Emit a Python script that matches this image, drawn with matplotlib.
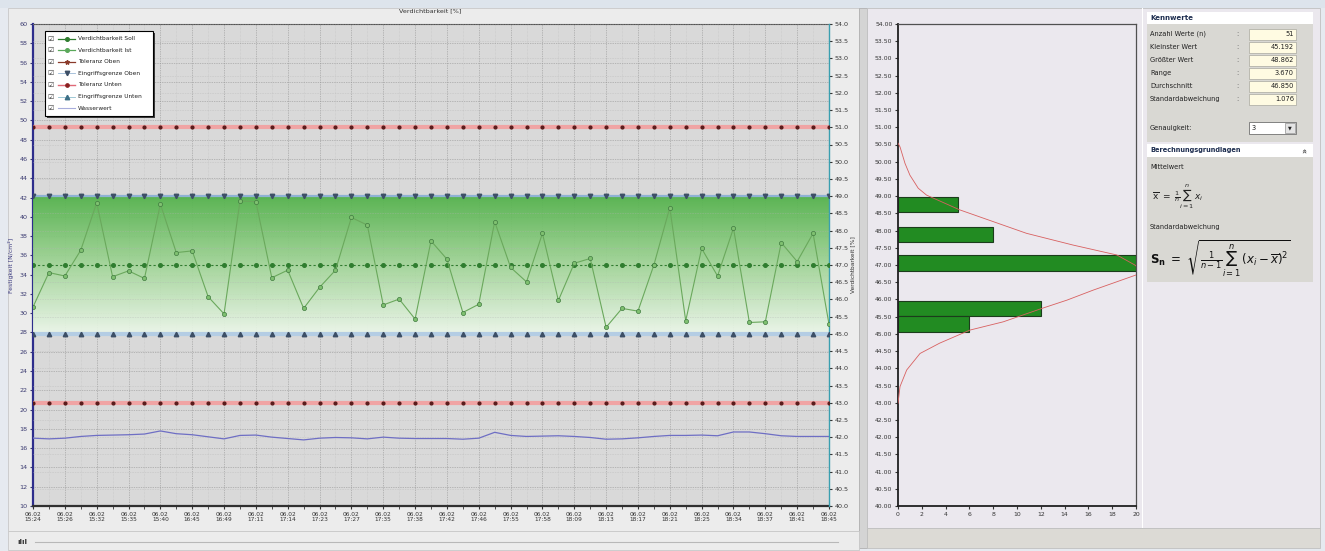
import numpy as np
import matplotlib
matplotlib.use("Agg")
import matplotlib.pyplot as plt
from matplotlib.patches import Rectangle
from matplotlib.lines import Line2D
from matplotlib.colors import LinearSegmentedColormap

W, H = 1325, 551

# --- Daten ---
datum = "06.02"
zeiten = ["15:24", "15:26", "15:32", "15:35", "15:40", "16:45", "16:49", "17:11", "17:14",
          "17:23", "17:27", "17:35", "17:38", "17:42", "17:46", "17:55", "17:58", "18:09",
          "18:13", "18:17", "18:21", "18:25", "18:34", "18:37", "18:41", "18:45"]

ist = [45.78, 46.78, 46.68, 47.43, 48.81, 46.66, 46.83, 46.61, 48.77, 47.36,
       47.41, 46.08, 45.58, 48.86, 48.84, 46.63, 46.85, 45.74, 46.35, 46.85,
       48.38, 48.16, 45.84, 46.01, 45.43, 47.70, 47.17, 45.62, 45.86, 48.26,
       46.93, 46.51, 47.92, 45.97, 47.05, 47.19, 45.19, 45.74, 45.66, 47.00,
       48.67, 45.38, 47.48, 46.68, 48.07, 45.33, 45.35, 47.65, 47.10, 47.92, 45.28]

wasser = [41.97, 41.95, 41.97, 42.02, 42.05, 42.06, 42.07, 42.09, 42.18, 42.10,
          42.07, 42.01, 41.95, 42.05, 42.06, 42.00, 41.96, 41.92, 41.97, 41.99,
          41.98, 41.95, 42.00, 41.97, 41.96, 41.96, 41.96, 41.94, 41.97, 42.14,
          42.05, 42.02, 42.03, 42.04, 42.02, 41.99, 41.94, 41.95, 41.98, 42.02,
          42.05, 42.05, 42.06, 42.04, 42.15, 42.15, 42.10, 42.04, 42.02, 42.02, 42.02]

soll_wert = 47.0
tol_oben, tol_unten = 51.0, 43.0
eg_oben, eg_unten = 49.0, 45.0

hist_mitte = [48.76, 47.88, 47.06, 45.74, 45.29]
hist_anzahl = [5, 8, 20, 12, 6]

kurve_wert = [50.54, 50.43, 49.95, 49.61, 49.23, 49.03, 48.60, 48.26, 47.92, 47.58, 47.29,
              47.00, 46.85, 46.71, 46.27, 45.98, 45.74, 45.35, 45.11, 44.73, 44.43, 43.95,
              43.47, 42.98]
kurve_anzahl = [0.0, 0.17, 0.59, 1.0, 1.7, 2.4, 5.2, 8.0, 10.8, 14.7, 18.4,
                19.9, 20.4, 20.0, 16.4, 14.2, 12.1, 8.85, 6.05, 3.5, 1.85, 0.73,
                0.17, 0.0]

stat_namen = ["Anzahl Werte (n)", "Kleinster Wert", "Größter Wert", "Range",
              "Durchschnitt", "Standardabweichung"]
stat_werte = ["51", "45.192", "48.862", "3.670", "46.850", "1.076"]

legende = ["Verdichtbarkeit Soll", "Verdichtbarkeit Ist", "Toleranz Oben",
           "Eingriffsgrenze Oben", "Toleranz Unten", "Eingriffsgrenze Unten", "Wasserwert"]


def box(x0, y0, x1, y1):
    return [x0 / W, 1 - y1 / H, (x1 - x0) / W, (y1 - y0) / H]


def rect(x0, y0, x1, y1, **kw):
    kw.setdefault("zorder", -5)
    fig.add_artist(Rectangle((x0 / W, 1 - y1 / H), (x1 - x0) / W, (y1 - y0) / H,
                             transform=fig.transFigure, **kw))


def txt(x, y, s, **kw):
    kw.setdefault("fontsize", 4.6)
    kw.setdefault("va", "center")
    kw.setdefault("zorder", 10)
    fig.text(x / W, 1 - y / H, s, **kw)


fig = plt.figure(figsize=(W / 100, H / 100), dpi=100)
fig.patch.set_facecolor("#e6eaf0")

# Panels
rect(0, 0, W, 8, facecolor="#dde4ec", edgecolor="none")
rect(8, 8, 859, 531, facecolor="#ececec", edgecolor="#c8c8c8", lw=0.6)
rect(859, 8, 867, 548, facecolor="#d4d4d4", edgecolor="#b0b0b0", lw=0.6)
rect(867, 8, 1320, 528, facecolor="#ebe8ee", edgecolor="#c0c0c0", lw=0.6)
rect(867, 528, 1320, 548, facecolor="#dcdad5", edgecolor="#c0c0c0", lw=0.6)
rect(8, 531, 859, 550, facecolor="#ececec", edgecolor="#c8c8c8", lw=0.6)
fig.add_artist(Line2D([35 / W, 838 / W], [1 - 542 / H] * 2, transform=fig.transFigure,
                      color="#b8b8b8", lw=0.8))
txt(22, 542, "ılıl", fontsize=5, ha="center", color="#303030", weight="bold")

# --- Hauptdiagramm ---
x = np.arange(len(ist))
n = len(ist)

ax = fig.add_axes(box(33, 24, 829, 506))
ax.set_facecolor("#d9d9d9")
ax.set_xlim(0, n - 1)
ax.set_ylim(10, 60)
ax.set_yticks(np.arange(10, 61, 2))
ax.set_yticklabels([str(v) for v in range(10, 61, 2)])
ax.set_xticks(x[::2])
ax.set_xticks(x, minor=True)
ax.set_xticklabels([datum + "\n" + z for z in zeiten])
ax.tick_params(axis="x", labelsize=4.2, length=2, pad=2, colors="#333333", which="both")
ax.tick_params(axis="y", labelsize=4.6, length=2, pad=2, colors="#3a3a70")
ax.grid(which="major", color="#909090", ls=(0, (1, 1.5)), lw=0.5)
ax.grid(which="minor", axis="x", color="#c2c2c2", ls=(0, (1, 1.5)), lw=0.4)
ax.set_axisbelow(True)
ax.spines["left"].set_color("#2d2d8c")
ax.spines["left"].set_linewidth(1.6)
ax.spines["bottom"].set_color("#303030")
ax.spines["bottom"].set_linewidth(1.6)
ax.spines["top"].set_color("#505050")
ax.spines["top"].set_linewidth(0.8)
ax.spines["right"].set_visible(False)

ax2 = ax.twinx()
verlauf = np.linspace(0, 1, 256).reshape(-1, 1)
cmap = LinearSegmentedColormap.from_list("gruen", ["#ecf7ea", "#a2d598", "#52b24a"])
ax2.imshow(verlauf, extent=[0, n - 1, eg_unten, eg_oben], origin="lower", aspect="auto",
           cmap=cmap, zorder=0, alpha=0.93)
ax2.set_xlim(0, n - 1)
ax2.set_ylim(40, 54)
ax2.set_yticks(np.arange(40, 54.01, 0.5))
ax2.set_yticklabels(["%.1f" % v for v in np.arange(40, 54.01, 0.5)])
ax2.tick_params(axis="y", labelsize=4.6, length=2, pad=2, colors="#333333")
ax2.grid(axis="y", color="#b4b4b4", ls=(0, (1, 2)), lw=0.4)
ax2.set_axisbelow(True)
for s in ["left", "top", "bottom"]:
    ax2.spines[s].set_visible(False)
ax2.spines["right"].set_color("#3a9fb0")
ax2.spines["right"].set_linewidth(1.0)

# Grenzlinien
ax2.plot(x, np.full(n, tol_oben), color="#f0a4a4", lw=3, zorder=3)
ax2.plot(x, np.full(n, tol_oben), ls="none", marker="o", ms=2.0, color="#5a1c1c", zorder=4)
ax2.plot(x, np.full(n, tol_unten), color="#f0a4a4", lw=3, zorder=3)
ax2.plot(x, np.full(n, tol_unten), ls="none", marker="o", ms=2.0, color="#5a1c1c", zorder=4)
ax2.plot(x, np.full(n, eg_oben), color="#8fb2d4", lw=1.6, zorder=3)
ax2.plot(x, np.full(n, eg_oben), ls="none", marker="v", ms=3.2, color="#3d4f66", zorder=4)
ax2.plot(x, np.full(n, eg_unten), color="#b4cde4", lw=3, zorder=3)
ax2.plot(x, np.full(n, eg_unten), ls="none", marker="^", ms=3.2, color="#3d4f66", zorder=4)
ax2.plot(x, np.full(n, soll_wert), color="#2f7d2f", lw=0.8, ls=(0, (2, 2)), zorder=4)
ax2.plot(x, np.full(n, soll_wert), ls="none", marker="o", ms=2.6, color="#2f7d2f", zorder=4)
ax2.plot(x, ist, color="#6aa85c", lw=0.8, marker="o", ms=3.0, mfc="#7fc070",
         mec="#3f7a3f", mew=0.5, zorder=5)
ax2.plot(x, wasser, color="#6e6ec4", lw=0.9, zorder=5)

txt(430, 11, "Verdichtbarkeit [%]", ha="center", color="#303030")
txt(11, 265, "Festigkeit [N/cm²]", ha="center", rotation=90, color="#3a3a80", fontsize=4.4)
txt(853, 265, "Verdichtbarkeit [%]", ha="center", rotation=90, color="#303030", fontsize=4.2)

# Legende
rect(47, 33, 155, 118, facecolor="#3c3c3c", edgecolor="none", zorder=6)
rect(45, 31, 153, 116, facecolor="white", edgecolor="black", lw=0.8, zorder=7)
leg_stil = [
    dict(color="#2f7d2f", marker="o", ms=2.6, lw=0.9),
    dict(color="#5aa85a", marker="o", ms=2.6, lw=0.9),
    dict(color="#8a3a2a", marker="*", ms=3.2, lw=0.9),
    dict(color="#9ab8d6", marker="v", ms=3.2, lw=0.6, mfc="#3d4f66", mec="#3d4f66"),
    dict(color="#e06a78", marker="o", ms=2.4, lw=1.0, mfc="#8a2020", mec="#8a2020"),
    dict(color="#8fc0d0", marker="^", ms=3.2, lw=0.6, mfc="#3d6f86", mec="#3d6f86"),
    dict(color="#a8aedc", marker=None, lw=0.8),
]
for k, (name, stil) in enumerate(zip(legende, leg_stil)):
    yy = 38.5 + 11.6 * k
    txt(51, yy, "☑", ha="center", fontsize=5, color="#404040")
    fig.add_artist(Line2D([58 / W, 75 / W], [1 - yy / H] * 2, transform=fig.transFigure,
                          color=stil["color"], lw=stil["lw"], zorder=8))
    if stil.get("marker"):
        fig.add_artist(Line2D([66.5 / W], [1 - yy / H], transform=fig.transFigure, ls="none",
                              marker=stil["marker"], ms=stil["ms"], zorder=9,
                              mfc=stil.get("mfc", stil["color"]), mec=stil.get("mec", stil["color"])))
    txt(78, yy, name, ha="left", fontsize=4.2, color="#202020")

# --- Histogramm ---
hx = fig.add_axes(box(898, 24, 1136, 506))
hx.set_facecolor("#ebe8ee")
hx.barh(hist_mitte, hist_anzahl, height=0.45, color="#228b22", edgecolor="#1c3c1c", lw=0.8,
        zorder=2)
hx.plot(kurve_anzahl, kurve_wert, color="#d86060", lw=0.6, zorder=3)
hx.set_xlim(0, 20)
hx.set_ylim(40, 54)
hx.set_xticks(np.arange(0, 21, 2))
hx.set_yticks(np.arange(40, 54.01, 0.5))
hx.set_yticklabels(["%.2f" % v for v in np.arange(40, 54.01, 0.5)])
hx.tick_params(labelsize=4.4, length=2, pad=2, colors="#333333")
for s in hx.spines.values():
    s.set_color("#505050")
    s.set_linewidth(0.9)
hx.spines["left"].set_color("#202020")
hx.spines["left"].set_linewidth(1.3)
hx.spines["bottom"].set_color("#202020")
hx.spines["bottom"].set_linewidth(1.3)

# --- Kennwerte ---
rect(1142, 8, 1143, 528, facecolor="#ffffff", edgecolor="none")
rect(1147, 12, 1313, 24, facecolor="white", edgecolor="none")
txt(1150, 18, "Kennwerte", ha="left", fontsize=5, weight="bold", color="#1e2e50")
rect(1147, 24, 1313, 142, facecolor="#d9d8d3", edgecolor="none")
for k, (name, wert) in enumerate(zip(stat_namen, stat_werte)):
    yy = 34 + 13 * k
    txt(1150, yy, name, ha="left", fontsize=4.8, color="#202020")
    txt(1237, yy, ":", ha="center", fontsize=4.8, color="#606060")
    rect(1249, yy - 5.5, 1296, yy + 5.5, facecolor="#fffbe2", edgecolor="#a8a8a0", lw=0.5,
         zorder=1)
    txt(1294, yy, wert, ha="right", fontsize=4.8, color="#202020")
txt(1150, 128, "Genauigkeit:", ha="left", fontsize=4.8, color="#202020")
rect(1249, 122, 1296, 134, facecolor="white", edgecolor="#707070", lw=0.6, zorder=1)
rect(1285, 123, 1295, 133, facecolor="#e4e4e4", edgecolor="#909090", lw=0.5, zorder=2)
txt(1252, 128, "3", ha="left", fontsize=4.8, color="#202020")
txt(1290, 128, "▼", ha="center", fontsize=3.5, color="#202020")

rect(1147, 144, 1313, 157, facecolor="white", edgecolor="none")
txt(1150, 150, "Berechnungsgrundlagen", ha="left", fontsize=4.8, weight="bold", color="#1e2e50")
txt(1302, 150, "«", ha="center", fontsize=5.5, rotation=-90, weight="bold", color="#404040")
rect(1147, 157, 1313, 282, facecolor="#d9d8d3", edgecolor="none")
txt(1150, 167, "Mittelwert", ha="left", fontsize=4.8, color="#202020")
txt(1152, 197, r"$\overline{\mathrm{x}}\ =\ \frac{1}{n}\sum_{i=1}^{n}\,x_i$", ha="left",
    fontsize=6.5, color="#202020")
txt(1150, 227, "Standardabweichung", ha="left", fontsize=4.8, color="#202020")
txt(1150, 259, r"$\mathbf{S_n}\ =\ \sqrt{\frac{1}{n-1}\sum_{i=1}^{n}\,(x_i-\overline{x})^2}$",
    ha="left", fontsize=8.5, color="#101010")

fig.savefig("out.png", dpi=100, facecolor=fig.get_facecolor())
